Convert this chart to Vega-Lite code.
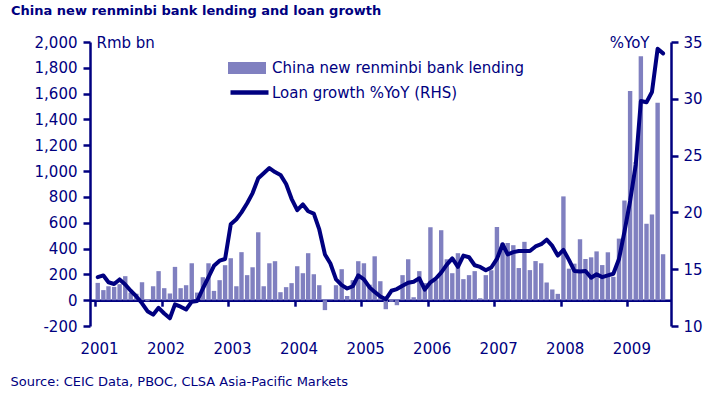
{
"$schema": "https://vega.github.io/schema/vega-lite/v6.json",
"width": 581, "height": 284,
"autosize": {"type": "none"},
"padding": {"left": 90, "top": 42, "right": 49, "bottom": 71},
"background": "white",
"config": {"view": {"stroke": null}, "font": "DejaVu Sans"},
"title": {"text": "China new renminbi bank lending and loan growth", "anchor": "start", "frame": "group", "dx": -79, "offset": 17, "font": "DejaVu Sans", "fontSize": 13, "fontWeight": "bold", "color": "#000080"},
"data": {"values": [
{"d":"2001-01-16","lend":134,"g":14.3},{"d":"2001-02-16","lend":78,"g":14.45},{"d":"2001-03-16","lend":108,"g":13.85},{"d":"2001-04-16","lend":103,"g":13.7},{"d":"2001-05-16","lend":124,"g":14.1},{"d":"2001-06-16","lend":186,"g":13.65},{"d":"2001-07-16","lend":57,"g":13.1},{"d":"2001-08-16","lend":50,"g":12.6},{"d":"2001-09-16","lend":139,"g":12.0},{"d":"2001-10-16","lend":-8,"g":11.3},{"d":"2001-11-16","lend":108,"g":11.0},{"d":"2001-12-16","lend":225,"g":11.6},
{"d":"2002-01-16","lend":93,"g":11.1},{"d":"2002-02-16","lend":52,"g":10.68},{"d":"2002-03-16","lend":258,"g":11.9},{"d":"2002-04-16","lend":93,"g":11.7},{"d":"2002-05-16","lend":116,"g":11.45},{"d":"2002-06-16","lend":286,"g":12.14},{"d":"2002-07-16","lend":59,"g":12.2},{"d":"2002-08-16","lend":178,"g":13.3},{"d":"2002-09-16","lend":286,"g":14.3},{"d":"2002-10-16","lend":72,"g":15.3},{"d":"2002-11-16","lend":155,"g":15.75},{"d":"2002-12-16","lend":271,"g":15.9},
{"d":"2003-01-16","lend":325,"g":18.95},{"d":"2003-02-16","lend":108,"g":19.4},{"d":"2003-03-16","lend":372,"g":20.0},{"d":"2003-04-16","lend":194,"g":20.8},{"d":"2003-05-16","lend":255,"g":21.7},{"d":"2003-06-16","lend":526,"g":23.0},{"d":"2003-07-16","lend":108,"g":23.45},{"d":"2003-08-16","lend":286,"g":23.9},{"d":"2003-09-16","lend":302,"g":23.55},{"d":"2003-10-16","lend":62,"g":23.3},{"d":"2003-11-16","lend":101,"g":22.5},{"d":"2003-12-16","lend":132,"g":21.2},
{"d":"2004-01-16","lend":263,"g":20.2},{"d":"2004-02-16","lend":209,"g":20.7},{"d":"2004-03-16","lend":364,"g":20.1},{"d":"2004-04-16","lend":201,"g":19.9},{"d":"2004-05-16","lend":116,"g":18.5},{"d":"2004-06-16","lend":-77,"g":16.3},{"d":"2004-07-16","lend":5,"g":15.5},{"d":"2004-08-16","lend":116,"g":14.1},{"d":"2004-09-16","lend":240,"g":13.6},{"d":"2004-10-16","lend":32,"g":13.3},{"d":"2004-11-16","lend":155,"g":13.5},{"d":"2004-12-16","lend":302,"g":14.45},
{"d":"2005-01-16","lend":286,"g":14.1},{"d":"2005-02-16","lend":120,"g":13.4},{"d":"2005-03-16","lend":340,"g":13.0},{"d":"2005-04-16","lend":147,"g":12.6},{"d":"2005-05-16","lend":-70,"g":12.35},{"d":"2005-06-16","lend":-12,"g":13.1},{"d":"2005-07-16","lend":-39,"g":13.25},{"d":"2005-08-16","lend":194,"g":13.55},{"d":"2005-09-16","lend":317,"g":13.8},{"d":"2005-10-16","lend":23,"g":13.9},{"d":"2005-11-16","lend":225,"g":14.2},{"d":"2005-12-16","lend":132,"g":13.2},
{"d":"2006-01-16","lend":565,"g":13.85},{"d":"2006-02-16","lend":155,"g":14.2},{"d":"2006-03-16","lend":542,"g":14.7},{"d":"2006-04-16","lend":317,"g":15.4},{"d":"2006-05-16","lend":209,"g":15.95},{"d":"2006-06-16","lend":364,"g":15.2},{"d":"2006-07-16","lend":163,"g":16.2},{"d":"2006-08-16","lend":194,"g":16.05},{"d":"2006-09-16","lend":225,"g":15.35},{"d":"2006-10-16","lend":15,"g":15.2},{"d":"2006-11-16","lend":194,"g":14.9},{"d":"2006-12-16","lend":232,"g":15.15},
{"d":"2007-01-16","lend":567,"g":15.9},{"d":"2007-02-16","lend":441,"g":17.2},{"d":"2007-03-16","lend":443,"g":16.3},{"d":"2007-04-16","lend":426,"g":16.5},{"d":"2007-05-16","lend":249,"g":16.6},{"d":"2007-06-16","lend":452,"g":16.6},{"d":"2007-07-16","lend":233,"g":16.6},{"d":"2007-08-16","lend":303,"g":17.0},{"d":"2007-09-16","lend":286,"g":17.2},{"d":"2007-10-16","lend":137,"g":17.6},{"d":"2007-11-16","lend":83,"g":17.05},{"d":"2007-12-16","lend":49,"g":16.2},
{"d":"2008-01-16","lend":804,"g":16.7},{"d":"2008-02-16","lend":244,"g":15.8},{"d":"2008-03-16","lend":283,"g":14.85},{"d":"2008-04-16","lend":472,"g":14.8},{"d":"2008-05-16","lend":319,"g":14.85},{"d":"2008-06-16","lend":332,"g":14.25},{"d":"2008-07-16","lend":378,"g":14.55},{"d":"2008-08-16","lend":272,"g":14.3},{"d":"2008-09-16","lend":371,"g":14.45},{"d":"2008-10-16","lend":181,"g":14.6},{"d":"2008-11-16","lend":477,"g":15.9},{"d":"2008-12-16","lend":772,"g":18.3},
{"d":"2009-01-16","lend":1620,"g":21.0},{"d":"2009-02-16","lend":1070,"g":24.2},{"d":"2009-03-16","lend":1890,"g":29.8},{"d":"2009-04-16","lend":592,"g":29.7},{"d":"2009-05-16","lend":664,"g":30.6},{"d":"2009-06-16","lend":1530,"g":34.4},{"d":"2009-07-16","lend":356,"g":34.0}
]},
"layer": [
{"mark": {"type": "bar", "size": 4.4, "color": "#8080c0"},
 "encoding": {
  "x": {"field": "d", "type": "temporal",
        "scale": {"type": "utc", "domain": [{"year": 2001, "month": 1, "date": 1, "utc": true}, {"year": 2009, "month": 8, "date": 1, "utc": true}]},
        "axis": {"orient": "bottom", "offset": -25.8, "format": "%Y", "formatType": "utc",
                 "values": [{"year":2001,"month":1,"date":1,"utc":true},{"year":2002,"month":1,"date":1,"utc":true},{"year":2003,"month":1,"date":1,"utc":true},{"year":2004,"month":1,"date":1,"utc":true},{"year":2005,"month":1,"date":1,"utc":true},{"year":2006,"month":1,"date":1,"utc":true},{"year":2007,"month":1,"date":1,"utc":true},{"year":2008,"month":1,"date":1,"utc":true},{"year":2009,"month":1,"date":1,"utc":true}],
                 "grid": false, "domainColor": "#000080", "domainWidth": 2.5, "tickColor": "#000080", "tickWidth": 2.5, "tickSize": 6,
                 "labelColor": "#000080", "labelFont": "DejaVu Sans", "labelFontSize": 15, "labelPadding": 42, "labelBaseline": "middle", "labelOffset": 4, "labelFlush": false, "labelOverlap": false,
                 "title": "Source: CEIC Data, PBOC, CLSA Asia-Pacific Markets", "titleX": -80, "titleY": 81, "titleAlign": "left", "titleAnchor": "start", "titleBaseline": "middle", "titleAngle": 0,
                 "titleFont": "DejaVu Sans", "titleFontSize": 13, "titleFontWeight": "normal", "titleColor": "#000080"}},
  "y": {"field": "lend", "type": "quantitative", "scale": {"domain": [-200, 2000], "nice": false},
        "axis": {"orient": "left", "values": [-200,0,200,400,600,800,1000,1200,1400,1600,1800,2000],
                 "labelExpr": "replace(format(datum.value, ','), '\u2212', '-')",
                 "grid": false, "domainColor": "#000080", "domainWidth": 2.5, "tickColor": "#000080", "tickWidth": 2.5, "tickSize": 7,
                 "labelColor": "#000080", "labelFont": "DejaVu Sans", "labelFontSize": 15, "labelPadding": 6, "labelFlush": false,
                 "title": "Rmb bn", "titleAngle": 0, "titleX": 6, "titleY": 0, "titleAlign": "left", "titleBaseline": "middle",
                 "titleFont": "DejaVu Sans", "titleFontSize": 15, "titleFontWeight": "normal", "titleColor": "#000080"}},
  "color": {"datum": "China new renminbi bank lending", "scale": {"range": ["#8080c0"]},
            "legend": {"orient": "none", "legendX": 138, "legendY": 7, "title": null, "padding": 0,
                       "symbolType": "M-1,-0.32H1V0.32H-1Z", "symbolSize": 1444, "symbolStrokeWidth": 0, "symbolOpacity": 1,
                       "labelFont": "DejaVu Sans", "labelFontSize": 15, "labelColor": "#000080", "labelOffset": 6, "labelLimit": 0}}
 }},
{"mark": {"type": "line", "strokeWidth": 4, "color": "#000080", "strokeJoin": "round", "strokeCap": "round"},
 "encoding": {
  "x": {"field": "d", "type": "temporal"},
  "y": {"field": "g", "type": "quantitative", "scale": {"domain": [10, 35], "nice": false},
        "axis": {"orient": "right", "values": [10,15,20,25,30,35],
                 "grid": false, "domainColor": "#000080", "domainWidth": 2.5, "tickColor": "#000080", "tickWidth": 2.5, "tickSize": 7,
                 "labelColor": "#000080", "labelFont": "DejaVu Sans", "labelFontSize": 15, "labelPadding": 5, "labelFlush": false,
                 "title": "%YoY", "titleAngle": 0, "titleX": -22, "titleY": 0, "titleAlign": "right", "titleBaseline": "middle",
                 "titleFont": "DejaVu Sans", "titleFontSize": 15, "titleFontWeight": "normal", "titleColor": "#000080"}},
  "color": {"datum": "Loan growth %YoY (RHS)", "scale": {"range": ["#000080"]},
            "legend": {"orient": "none", "legendX": 138, "legendY": 29, "title": null, "padding": 0,
                       "symbolType": "stroke", "symbolSize": 1444, "symbolStrokeWidth": 4.5,
                       "labelFont": "DejaVu Sans", "labelFontSize": 15, "labelColor": "#000080", "labelOffset": 1, "labelLimit": 0}}
 }}
],
"resolve": {"scale": {"y": "independent", "color": "independent"}}
}
